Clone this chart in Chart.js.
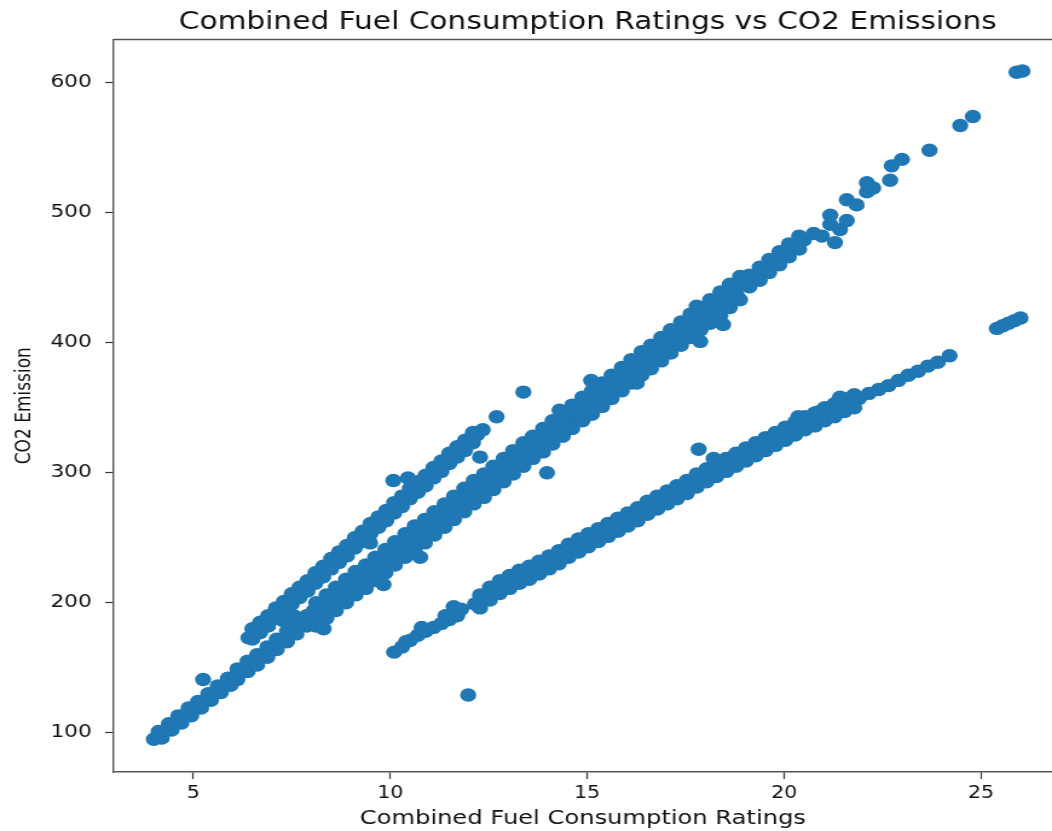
<!DOCTYPE html>
<html>
<head>
<meta charset="utf-8">
<title>Combined Fuel Consumption Ratings vs CO2 Emissions</title>
<script src="https://cdn.jsdelivr.net/npm/chart.js@4.4.1/dist/chart.umd.min.js"></script>
<style>
  html, body { margin: 0; padding: 0; background: #fff; }
</style>
</head>
<body>
<!-- the reference figure is stretched sideways, so the canvas is drawn narrower and scaled up by CSS -->
<canvas id="chart" width="870" height="831" style="width:1052px;height:831px"></canvas>
<script>
const titleText = 'Combined Fuel Consumption Ratings vs CO2 Emissions';
const xLabel = 'Combined Fuel Consumption Ratings';
const yLabel = 'CO2 Emission';
const xTickValues = [5, 10, 15, 20, 25];
const yTickValues = [100, 200, 300, 400, 500, 600];

// [combined fuel consumption, CO2 emission]
// main (regular fuel) band
const regularBand = [
  [4.0,95],[4.12,98],[4.25,101],[4.38,104],[4.5,107],[4.62,110],[4.75,113],[4.88,116],[5.0,118],[5.12,121],
  [5.25,124],[5.38,127],[5.5,130],[5.62,133],[5.75,136],[5.88,139],[6.0,142],[6.12,145],[6.25,148],[6.38,151],
  [6.5,153],[6.62,156],[6.75,159],[6.88,162],[7.0,165],[7.25,171],[7.5,177],[7.75,183],[8.0,188],[8.25,194],
  [8.5,200],[8.75,206],[9.0,212],[9.25,217],[9.5,223],[9.75,229],[10.0,235],[10.25,241],[10.5,247],[10.75,252],
  [11.0,258],[11.25,264],[11.5,270],[11.75,276],[12.0,282],[12.25,287],[12.5,293],[12.75,299],[13.0,305],[13.25,311],
  [13.5,317],[13.75,322],[14.0,328],[14.25,334],[14.5,340],[14.75,346],[15.0,351],[15.25,357],[15.5,363],[15.75,369],
  [16.0,375],[16.25,381],[16.5,386],[16.75,392],[17.0,398],[17.25,404],[17.5,410],[17.75,416],[18.0,421],[18.25,427],
  [18.5,433],[18.75,439],[19.0,445],[19.25,451],[19.5,456],[19.75,462],[20.0,468],[20.25,474],[20.5,479],[20.75,484]
];
const regularUpper = [
  [4.12,101],[4.38,107],[4.62,113],[4.88,119],[5.12,124],[5.38,130],[5.62,136],[5.88,142],[6.12,149],[6.38,155],
  [6.62,160],[6.88,166],[7.12,172],[7.38,178],[7.62,184],[7.88,190],[8.12,200],[8.38,206],[8.62,212],[8.88,218],
  [9.12,224],[9.38,229],[9.62,235],[9.88,241],[10.12,247],[10.38,253],[10.62,259],[10.88,264],[11.12,270],[11.38,276],
  [11.62,282],[11.88,288],[12.12,294],[12.38,299],[12.62,305],[12.88,311],[13.12,317],[13.38,323],[13.62,328],[13.88,334],
  [14.12,340],[14.38,346],[14.62,352],[14.88,358],[15.12,363],[15.38,369],[15.62,375],[15.88,381],[16.12,387],[16.38,393],
  [16.62,398],[16.88,404],[17.12,410],[17.38,416],[17.62,422],[17.88,427],[18.12,433],[18.38,439],[18.62,445],[18.88,451],
  [19.12,452],[19.38,458],[19.62,464],[19.88,470],[20.12,476],[20.38,482]
];
const regularInnerUpper = [
  [8.06,194],[8.31,200],[8.56,206],[8.81,212],[9.06,218],[9.31,223],[9.56,229],[9.81,235],[10.06,241],[10.31,247],
  [10.56,253],[10.81,258],[11.06,264],[11.31,270],[11.56,276],[11.81,282],[12.06,288],[12.31,293],[12.56,299],[12.81,305],
  [13.06,311],[13.31,317],[13.56,322],[13.81,328],[14.06,334],[14.31,340],[14.56,346],[14.81,352],[15.06,357],[15.31,363],
  [15.56,369],[15.81,375],[16.06,381],[16.31,387],[16.56,392],[16.81,398],[17.06,404],[17.31,410],[17.56,416],[17.81,421],
  [18.06,427],[18.31,433],[18.56,439],[18.81,445]
];
const regularInnerLower = [
  [8.06,185],[8.31,191],[8.56,197],[8.81,203],[9.06,209],[9.31,214],[9.56,220],[9.81,226],[10.06,232],[10.31,238],
  [10.56,244],[10.81,249],[11.06,255],[11.31,261],[11.56,267],[11.81,273],[12.06,279],[12.31,284],[12.56,290],[12.81,296],
  [13.06,302],[13.31,308],[13.56,313],[13.81,319],[14.06,325],[14.31,331],[14.56,337],[14.81,343],[15.06,348],[15.31,354],
  [15.56,360],[15.81,366],[16.06,372],[16.31,378],[16.56,383],[16.81,389],[17.06,395],[17.31,401],[17.56,407],[17.81,412],
  [18.06,418],[18.31,424],[18.56,430],[18.81,436]
];
const regularLower = [
  [4.2,96],[4.45,102],[4.7,107.5],[4.95,113],[5.2,119],[5.45,125],[5.7,131],[5.95,136.5],
  [6.12,141],[6.38,147],[6.62,152],[6.88,158],[7.12,164],[7.38,170],[7.62,176],[7.88,182],[8.12,182],[8.38,188],
  [8.62,194],[8.88,200],[9.12,206],[9.38,211],[9.62,217],[9.88,223],[10.12,229],[10.38,235],[10.62,241],[10.88,246],
  [11.12,252],[11.38,258],[11.62,264],[11.88,270],[12.12,276],[12.38,281],[12.62,287],[12.88,293],[13.12,299],[13.38,305],
  [13.62,311],[13.88,316],[14.12,322],[14.38,328],[14.62,334],[14.88,340],[15.12,345],[15.38,351],[15.62,357],[15.88,363],
  [16.12,369],[16.38,375],[16.62,380],[16.88,386],[17.12,392],[17.38,398],[17.62,404],[17.88,410],[18.12,415],[18.38,421],
  [18.62,427],[18.88,433],[19.12,443],[19.38,448],[19.62,454],[19.88,460],[20.12,466],[20.38,472]
];
const regularTail = [
  [20.96,482],[21.17,491],[21.17,498],[21.42,487],[21.59,494],[21.59,510],[21.84,506],[22.1,516],[22.1,523],
  [22.26,519],[22.69,525],[22.73,536],[22.99,541],[23.69,548],[24.47,567],[24.79,574],[25.9,608],[26.05,609]
];

// steeper upper-left band
const dieselBand = [
  [6.4,173],[6.6,178],[6.8,184],[7.0,189],[7.2,194],[7.4,200],[7.6,205],[7.8,211],[8.0,216],[8.2,221],
  [8.4,227],[8.6,232],[8.8,238],[9.0,243],[9.2,248],[9.4,254],[9.6,259],[9.8,265],[10.0,270],[10.2,275],
  [10.4,281],[10.6,286],[10.8,292],[11.0,297],[11.2,302],[11.4,308],[11.6,313],[11.8,319],[12.0,324],[12.2,329],[12.35,333]
];
const dieselUpper = [
  [6.5,180],[6.7,185],[6.9,190],[7.1,196],[7.3,201],[7.5,207],[7.7,212],[7.9,217],[8.1,223],[8.3,228],
  [8.5,234],[8.7,239],[8.9,244],[9.1,250],[9.3,255],[9.5,261],[9.7,266],[9.9,271],[10.1,277],[10.3,282],
  [10.5,288],[10.7,293],[10.9,298],[11.1,304],[11.3,309],[11.5,315],[11.7,320],[11.9,325],[12.1,331]
];
const dieselLower = [
  [6.5,172],[6.7,177],[6.9,182],[7.1,188],[7.3,193],[7.5,199],[7.7,204],[7.9,209],[8.1,215],[8.3,220],
  [8.5,226],[8.7,231],[8.9,236],[9.1,242],[9.3,247],[9.5,253],[9.7,258],[9.9,263],[10.1,269],[10.3,274],
  [10.5,280],[10.7,285],[10.9,290],[11.1,296],[11.3,301],[11.5,307],[11.7,312],[11.9,317],[12.1,323]
];

// lower, flatter band
const ethanolBand = [
  [10.1,162],[10.3,166],[10.5,171],[10.7,175],[10.9,178],[11.1,181],[11.3,184],[11.5,187],[11.7,190],[12.15,199],
  [12.4,204],[12.65,210],[12.9,214],[13.15,218],[13.4,222],[13.65,225],[13.9,229],[14.15,233],[14.4,238],[14.65,242],
  [14.9,246],[15.15,250],[15.4,254],[15.65,258],[15.9,262],[16.15,266],[16.4,271],[16.65,275],[16.9,279],[17.15,283],
  [17.4,287],[17.65,292],[17.9,296],[18.15,300],[18.4,304],[18.65,308],[18.9,312],[19.15,316],[19.4,320],[19.65,324],
  [19.9,328],[20.15,332],[20.4,336],[20.65,340],[20.9,343],[21.15,347],[21.4,350],[21.65,354],[21.9,357],[22.15,361],
  [22.4,364],[22.65,367],[22.9,371],[23.15,375],[23.4,378],[23.65,382],[23.9,385],[24.2,390]
];
const ethanolUpper = [
  [12.28,206],[12.53,212],[12.78,217],[13.03,221],[13.28,225],[13.53,228],[13.78,232],[14.03,236],[14.28,240],[14.53,245],
  [14.78,249],[15.03,253],[15.28,257],[15.53,261],[15.78,265],[16.03,269],[16.28,273],[16.53,278],[16.78,282],[17.03,286],
  [17.28,290],[17.53,294],[17.78,299],[18.03,303],[18.28,307],[18.53,311],[18.78,315],[19.03,319],[19.28,323],[19.53,327],
  [19.78,331],[20.03,335],[20.28,339],[20.53,343],[20.78,346],[21.03,350],[21.28,353],[21.53,357],[21.78,360]
];
const ethanolLower = [
  [12.28,196],[12.53,202],[12.78,207],[13.03,211],[13.28,215],[13.53,218],[13.78,222],[14.03,226],[14.28,230],[14.53,235],
  [14.78,239],[15.03,243],[15.28,247],[15.53,251],[15.78,255],[16.03,259],[16.28,263],[16.53,268],[16.78,272],[17.03,276],
  [17.28,280],[17.53,284],[17.78,289],[18.03,293],[18.28,297],[18.53,301],[18.78,305],[19.03,309],[19.28,313],[19.53,317],
  [19.78,321],[20.03,325],[20.28,329],[20.53,333],[20.78,336],[21.03,340],[21.28,343],[21.53,347],[21.78,350]
];

// odd single vehicles and small clusters
const strayPoints = [
  [5.25,141],[11.98,129],[8.31,180],[9.83,214],[10.76,235],[13.98,300],[16.26,369],[17.87,401],[18.45,414],
  [14.3,348],[15.1,371],[17.78,428],[21.29,477],[10.08,294],[10.45,296],[12.28,312],[12.7,343],[13.38,362],
  [9.49,246],[7.3,186],[7.55,190],[17.83,318],[18.21,311],[20.36,343],[20.89,347],[21.42,358],
  [25.4,411],[25.55,413],[25.7,415],[25.85,417],[26.0,419],
  [10.4,170],[10.8,181],[11.4,190],[11.61,197],[11.8,195]
];

const allPoints = [
  ...regularBand, ...regularUpper, ...regularInnerUpper, ...regularInnerLower, ...regularLower, ...regularTail,
  ...dieselBand, ...dieselUpper, ...dieselLower,
  ...ethanolBand, ...ethanolUpper, ...ethanolLower,
  ...strayPoints
].map(([x, y]) => ({ x, y }));

const FONT = "'DejaVu Sans', 'Liberation Sans', sans-serif";
const SPINE = '#555';

// title over the axes and the top spine, matplotlib style
const figureTitle = {
  id: 'figureTitle',
  afterDraw(chart) {
    const { ctx, chartArea } = chart;
    ctx.save();
    ctx.strokeStyle = SPINE;
    ctx.lineWidth = 1.4;
    ctx.beginPath();
    ctx.moveTo(chartArea.left, chartArea.top);
    ctx.lineTo(chart.width, chartArea.top);
    ctx.stroke();
    ctx.fillStyle = '#111';
    ctx.font = `24.5px ${FONT}`;
    ctx.textAlign = 'center';
    ctx.textBaseline = 'alphabetic';
    ctx.fillText(titleText, 486, 29);
    ctx.restore();
  }
};

new Chart(document.getElementById('chart'), {
  type: 'scatter',
  data: {
    datasets: [{
      data: allPoints,
      backgroundColor: '#1f77b4',
      borderColor: '#1f77b4',
      pointRadius: 6.7,
      pointHoverRadius: 6.7,
      pointBorderWidth: 0
    }]
  },
  options: {
    responsive: false,
    animation: false,
    devicePixelRatio: 1,
    events: [],
    layout: { autoPadding: false, padding: { top: 39.5, right: 0, bottom: 0, left: 0 } },
    plugins: {
      legend: { display: false },
      title: { display: false },
      tooltip: { enabled: false }
    },
    scales: {
      x: {
        type: 'linear',
        min: 2.98,
        max: 26.8,
        afterBuildTicks: s => { s.ticks = xTickValues.map(v => ({ value: v })); },
        afterFit: s => { s.height = 59; s.paddingLeft = 0; s.paddingRight = 0; },
        grid: { drawOnChartArea: false, drawTicks: true, tickLength: 7, tickWidth: 1.2, color: '#333' },
        border: { display: true, color: SPINE, width: 1.4 },
        ticks: { font: { family: FONT, size: 17 }, color: '#111', padding: 4, maxRotation: 0 },
        title: { display: true, text: xLabel, color: '#111', font: { family: FONT, size: 20 }, padding: { top: 0, bottom: 0 } }
      },
      y: {
        type: 'linear',
        min: 69.8,
        max: 633.2,
        afterBuildTicks: s => { s.ticks = yTickValues.map(v => ({ value: v })); },
        afterFit: s => { s.width = 94; s.paddingTop = 0; s.paddingBottom = 0; },
        grid: { drawOnChartArea: false, drawTicks: true, tickLength: 7, tickWidth: 1.2, color: '#333' },
        border: { display: true, color: SPINE, width: 1.4 },
        ticks: { font: { family: FONT, size: 18 }, color: '#111', padding: 11 },
        title: { display: true, text: yLabel, color: '#111', font: { family: FONT, size: 17 }, padding: { top: 10, bottom: 0 } }
      }
    }
  },
  plugins: [figureTitle]
});
</script>
</body>
</html>
